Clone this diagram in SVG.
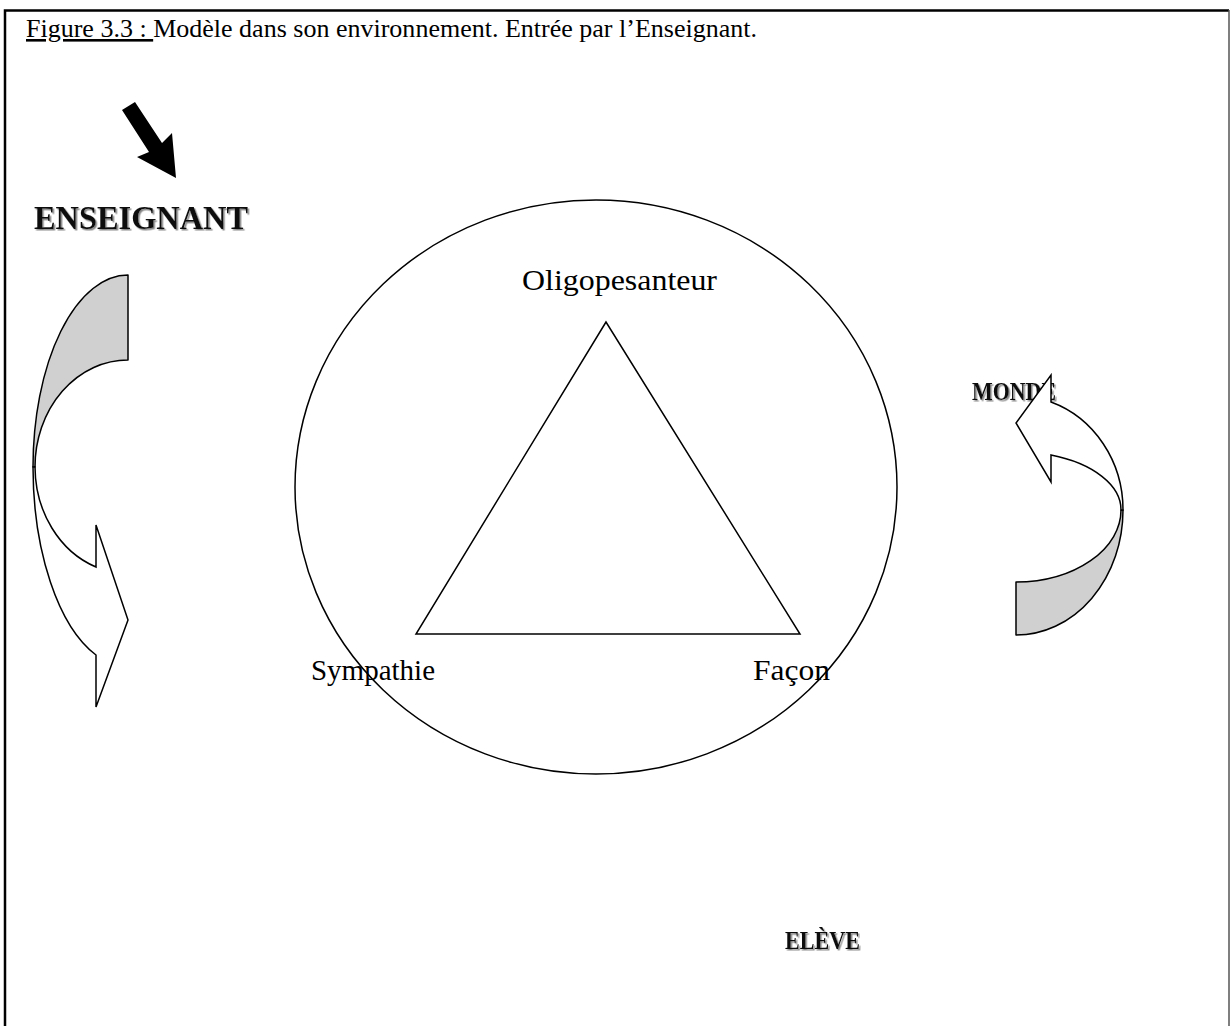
<svg xmlns="http://www.w3.org/2000/svg" width="1232" height="1026" viewBox="0 0 1232 1026">
<style>
.serif{font-family:"Liberation Serif","Times New Roman",serif;fill:#000}
.deco{font-family:"Liberation Serif","DejaVu Serif",serif;font-weight:bold;fill:#111;filter:url(#shadow)}
.line{fill:none;stroke:#000;stroke-width:1.5}
.back{fill:#d0d0d0;stroke:#000;stroke-width:1.5;stroke-linejoin:round}
.front{fill:#fff;stroke:#000;stroke-width:1.5;stroke-linejoin:miter}
</style>
<defs>
<filter id="shadow" x="-10%" y="-20%" width="120%" height="150%">
<feDropShadow dx="1.5" dy="1.5" stdDeviation="0.4" flood-color="#888" flood-opacity="1"/>
</filter>
</defs>
<rect width="1232" height="1026" fill="#fff"/>
<g id="frame">
<path d="M5,1026 V10.5 H1229" fill="none" stroke="#000" stroke-width="2.5"/>
<path d="M1229,10 V1026" fill="none" stroke="#555" stroke-width="1.5"/>
</g>
<g id="title">
<text class="serif" x="26" y="37" font-size="26" textLength="731" lengthAdjust="spacingAndGlyphs"><tspan text-decoration="underline">Figure 3.3 : </tspan>Modèle dans son environnement. Entrée par l’Enseignant.</text>
</g>
<g id="enseignant">
<text class="deco" x="34" y="229" font-size="34" textLength="214" lengthAdjust="spacingAndGlyphs">ENSEIGNANT</text>
</g>
<g id="monde">
<text class="deco" x="972" y="400" font-size="25" textLength="84" lengthAdjust="spacingAndGlyphs">MONDE</text>
</g>
<g id="eleve">
<text class="deco" x="785" y="949" font-size="25" textLength="75" lengthAdjust="spacingAndGlyphs">ELÈVE</text>
</g>
<g id="model">
<ellipse class="line" cx="596" cy="487" rx="301" ry="287"/>
<polygon class="line" points="606,322 416,634 800,634"/>
<text class="serif" x="522" y="290" font-size="30" textLength="195" lengthAdjust="spacingAndGlyphs">Oligopesanteur</text>
<text class="serif" x="311" y="680" font-size="30" textLength="124" lengthAdjust="spacingAndGlyphs">Sympathie</text>
<text class="serif" x="753" y="680" font-size="30" textLength="77" lengthAdjust="spacingAndGlyphs">Façon</text>
</g>
<g id="connectors">
<polygon id="entry-arrow" points="122,110 135,102 162,143 172,133 176,178 137,157 149,152" fill="#000"/>
<g id="left-curved-arrow">
<path class="back" d="M128,275 L128,360 A93,107 0 0 0 35,467 L33,467 A95,192 0 0 1 128,275 Z"/>
<path class="front" d="M33,467 A95,200 0 0 0 96,655 L96,707 L128,620 L96,525 L96,567 A93,107 0 0 1 35,467 Z"/>
</g>
<g id="right-curved-arrow">
<path class="back" d="M1016,582 A105,72 0 0 0 1121,510 L1123,510 A107,125 0 0 1 1016,635 Z"/>
<path class="front" d="M1123,510 A107,114 0 0 0 1051,402 L1051,375 L1016,423 L1051,482 L1051,455 A105,58 0 0 1 1121,510 Z"/>
</g>
</g>
</svg>
